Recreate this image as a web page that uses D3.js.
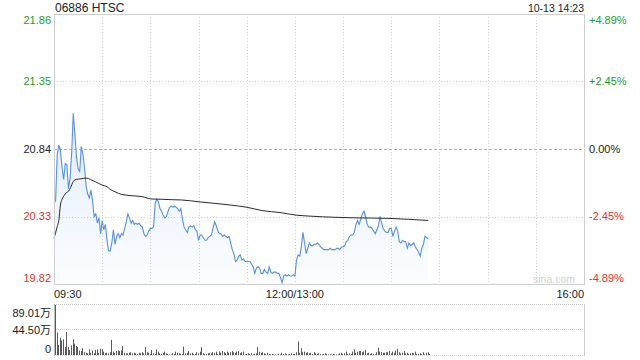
<!DOCTYPE html>
<html><head><meta charset="utf-8">
<script src="https://cdn.jsdelivr.net/npm/d3@7/dist/d3.min.js"></script>
<style>
html,body{margin:0;padding:0;background:#fff;}
svg{display:block;}
text{font-family:Arial,"Liberation Sans","Noto Sans CJK SC",sans-serif;}
</style></head>
<body>
<svg id="c" width="640" height="360"></svg>
<script>
const title = "06886 HTSC";
const stamp = "10-13 14:23";
const prevClose = 20.84;
const priceTicks = [21.86, 21.35, 20.84, 20.33, 19.82];
const pctTicks = ["+4.89%", "+2.45%", "0.00%", "-2.45%", "-4.89%"];
const timeTickMinutes = [0, 150, 330];
const timeTickLabels = ["09:30", "12:00/13:00", "16:00"];
const volTicks = [89.01, 44.50, 0];
const volTickLabels = ["89.01万", "44.50万", "0"];

// minute-by-minute last price (minute 0 = 09:30, minute 150 = 13:00)
const prices = [
20.43,20.45,20.80,20.87,20.83,20.70,20.61,20.73,20.72,20.54,
20.62,20.81,21.11,20.95,20.78,20.69,20.67,20.86,20.80,20.70,
20.56,20.50,20.47,20.53,20.45,20.33,20.35,20.28,20.32,20.20,
20.30,20.23,20.27,20.15,20.07,20.07,20.13,20.23,20.12,20.18,
20.20,20.17,20.20,20.19,20.24,20.29,20.35,20.32,20.28,20.30,
20.27,20.28,20.27,20.28,20.26,20.25,20.20,20.18,20.19,20.22,
20.24,20.24,20.25,20.43,20.46,20.44,20.39,20.37,20.34,20.32,
20.33,20.37,20.40,20.41,20.40,20.41,20.40,20.39,20.37,20.39,
20.31,20.25,20.23,20.21,20.25,20.26,20.25,20.26,20.23,20.22,
20.15,20.19,20.19,20.17,20.15,20.15,20.17,20.18,20.19,20.24,
20.29,20.26,20.22,20.20,20.20,20.18,20.19,20.18,20.17,20.18,
20.13,20.08,20.05,19.99,20.00,20.03,20.04,20.00,20.01,19.99,
19.99,19.99,19.99,19.97,19.95,19.90,19.94,19.95,19.94,19.90,
19.90,19.93,19.91,19.90,19.95,19.91,19.90,19.91,19.91,19.90,
19.90,19.87,19.83,19.88,19.89,19.88,19.89,19.88,19.88,19.89,
19.88,20.00,20.04,20.03,20.10,20.21,20.13,20.05,20.09,20.13,
20.11,20.11,20.12,20.12,20.13,20.12,20.10,20.09,20.08,20.08,
20.08,20.08,20.09,20.08,20.08,20.08,20.09,20.09,20.08,20.10,
20.10,20.11,20.14,20.15,20.18,20.19,20.19,20.21,20.27,20.30,
20.27,20.31,20.35,20.37,20.33,20.27,20.25,20.25,20.24,20.22,
20.20,20.23,20.26,20.33,20.28,20.24,20.22,20.21,20.21,20.24,
20.24,20.18,20.22,20.25,20.22,20.14,20.13,20.15,20.14,20.14,
20.09,20.13,20.11,20.12,20.13,20.10,20.08,20.06,20.03,20.09,
20.12,20.18,20.17,20.16
];

// average price line, read at these minutes
const avgMinutes = [0,2,3,4,5,6.4,7.7,9,10.4,11.6,12.9,15.4,18.5,20.5,22.6,25.7,29.9,33,35,38,42,48.6,54.8,61,67,73.5,79.3,91,109.6,120,130,140.7,151,159,175,187,208,233];
const avgPrices  = [20.165,20.253,20.30,20.417,20.46,20.49,20.51,20.52,20.55,20.586,20.606,20.613,20.618,20.62,20.61,20.593,20.568,20.555,20.535,20.517,20.497,20.487,20.48,20.462,20.46,20.457,20.455,20.44,20.417,20.40,20.374,20.36,20.34,20.333,20.324,20.32,20.316,20.30];

// minute volume, 万 shares
const volumes = [
89,40,18,31,26,28,14,41,14,9,
17,28,20,16,14,8,7,12,5,4,
3,10,4,8,3,9,10,4,11,11,
6,3,4,3,5,27,6,4,7,8,
7,8,16,4,3,3,4,5,3,4,
3,2,4,3,5,3,14,5,4,2,
9,3,2,10,6,3,2,4,6,3,
2,1,1,3,2,6,4,3,2,2,
15,3,4,7,3,4,2,2,5,3,
6,14,3,2,2,3,4,3,5,4,
6,2,6,4,7,5,3,6,4,5,
7,5,4,6,7,3,5,6,1,2,
3,2,3,1,2,3,14,6,4,5,
3,2,4,2,1,2,1,1,1,2,
1,4,2,3,2,1,2,3,2,2,
5,24,4,12,5,6,4,5,3,4,
2,5,3,2,3,2,1,2,3,2,
1,1,1,2,1,1,1,3,4,2,
3,6,2,3,2,6,10,4,6,7,
7,5,6,9,3,4,2,3,2,1,
5,13,6,5,4,4,5,5,7,3,
6,4,8,11,5,3,4,7,3,4,
2,3,4,3,6,2,2,3,2,5,
1,4,5,2
];

const svg = d3.select("#c");
const L = 54, R = 584, T = 14, B = 284;
const VT = 305, VB = 355;

const x = d3.scaleLinear().domain([0, 330]).range([L, R]);
const y = d3.scaleLinear().domain([19.82, 21.86]).range([B, T]);
const yv = d3.scaleLinear().domain([0, 89.01]).range([VB, VT]);

const defs = svg.append("defs");
const grad = defs.append("linearGradient").attr("id","ag").attr("x1",0).attr("y1",0).attr("x2",0).attr("y2",1);
grad.append("stop").attr("offset","0%").attr("stop-color","#4e8ef0").attr("stop-opacity",0.16);
grad.append("stop").attr("offset","100%").attr("stop-color","#4e8ef0").attr("stop-opacity",0.02);

const px = v => Math.round(v) + 0.5;

// vertical grid
const vgrid = d3.range(30, 330, 30);
svg.append("g").selectAll("line").data(vgrid).join("line")
  .attr("x1", d => px(x(d))).attr("x2", d => px(x(d)))
  .attr("y1", T).attr("y2", B)
  .attr("stroke", "#d4d4d4").attr("stroke-dasharray", "1,2");
svg.append("g").selectAll("line").data(vgrid).join("line")
  .attr("x1", d => px(x(d))).attr("x2", d => px(x(d)))
  .attr("y1", VT - 1).attr("y2", VB)
  .attr("stroke", "#e4e4e4").attr("stroke-dasharray", "1,2").attr("opacity", 0);

// horizontal grid
svg.append("g").selectAll("line").data([21.35, 20.33]).join("line")
  .attr("x1", L).attr("x2", R).attr("y1", d => px(y(d))).attr("y2", d => px(y(d)))
  .attr("stroke", "#d4d4d4").attr("stroke-dasharray", "1,2");
svg.append("line").attr("x1", L).attr("x2", R)
  .attr("y1", px(y(prevClose))).attr("y2", px(y(prevClose)))
  .attr("stroke", "#b0b0b0").attr("stroke-dasharray", "3,2");

// area + price line
const area = d3.area().x((d,i) => x(i)).y0(B).y1(d => y(d));
svg.append("path").datum(prices).attr("d", area).attr("fill", "url(#ag)");
const line = d3.line().x((d,i) => x(i)).y(d => y(d));
svg.append("path").datum(prices).attr("d", line)
  .attr("fill","none").attr("stroke","#5590ee").attr("stroke-width",1.1);

// average line
const aline = d3.line().x((d,i) => x(avgMinutes[i])).y(d => y(d)).curve(d3.curveMonotoneX);
svg.append("path").datum(avgPrices).attr("d", aline)
  .attr("fill","none").attr("stroke","#2a2a2a").attr("stroke-width",1);

// frame
svg.append("rect").attr("x", L + 0.5).attr("y", T + 0.5).attr("width", R - L).attr("height", B - T)
  .attr("fill","none").attr("stroke","#cfcfcf");

// watermark
svg.append("text").attr("x", 575).attr("y", 283).attr("text-anchor","end")
  .attr("font-size", 10.5).attr("fill", "#d2d2d2").text("sina.com");

// left price labels
const colorFor = v => v > prevClose ? "#1e9e1e" : (v < prevClose ? "#f0302a" : "#222");
const labelY = (yy) => Math.min(Math.max(yy, T + 6), B - 6);
svg.append("g").selectAll("text").data(priceTicks).join("text")
  .attr("x", 51).attr("y", d => labelY(y(d))).attr("dy","0.35em")
  .attr("text-anchor","end").attr("font-size", 11)
  .attr("fill", d => colorFor(d)).text(d => d.toFixed(2));
svg.append("g").selectAll("text").data(priceTicks).join("text")
  .attr("x", 589).attr("y", d => labelY(y(d))).attr("dy","0.35em")
  .attr("text-anchor","start").attr("font-size", 11)
  .attr("fill", d => colorFor(d)).text((d,i) => pctTicks[i]);

// title & stamp
svg.append("text").attr("x", 55).attr("y", 12).attr("font-size", 12).attr("fill","#222").text(title);
svg.append("text").attr("x", 584).attr("y", 12).attr("text-anchor","end").attr("font-size", 10.5).attr("fill","#222").text(stamp);

// time labels
svg.append("g").selectAll("text").data(timeTickMinutes).join("text")
  .attr("x", d => x(d)).attr("y", 298)
  .attr("text-anchor", (d,i) => i === 0 ? "start" : (i === 2 ? "end" : "middle"))
  .attr("font-size", 11).attr("fill","#222").text((d,i) => timeTickLabels[i]);

// volume panel grid
svg.append("g").selectAll("line").data([89.01, 44.50]).join("line")
  .attr("x1", L).attr("x2", R).attr("y1", d => px(yv(d)) - 1).attr("y2", d => px(yv(d)) - 1)
  .attr("stroke", "#c8c8c8").attr("stroke-dasharray", "1,1");
svg.append("line").attr("x1", L).attr("x2", R).attr("y1", VB + 0.5).attr("y2", VB + 0.5)
  .attr("stroke", "#d8d8d8").attr("stroke-dasharray", "1,1");
svg.append("line").attr("x1", L + 0.5).attr("x2", L + 0.5).attr("y1", VT - 1).attr("y2", VB + 1).attr("stroke", "#bcbcbc");
svg.append("line").attr("x1", R + 0.5).attr("x2", R + 0.5).attr("y1", VT - 1).attr("y2", VB + 1).attr("stroke", "#d0d0d0");

// volume bars
svg.append("g").selectAll("line").data(volumes).join("line")
  .attr("x1", (d,i) => Math.round(x(i)) + 1.5).attr("x2", (d,i) => Math.round(x(i)) + 1.5)
  .attr("y1", VB).attr("y2", d => yv(d))
  .attr("stroke", "#5a5a5a").attr("stroke-width", 1);

// volume labels
const vLabelY = [313, 330, 349];
svg.append("g").selectAll("text").data(volTicks).join("text")
  .attr("x", 51).attr("y", (d,i) => vLabelY[i]).attr("dy","0.35em")
  .attr("text-anchor","end").attr("font-size", 11).attr("fill","#222")
  .text((d,i) => volTickLabels[i]);
</script>
</body></html>
